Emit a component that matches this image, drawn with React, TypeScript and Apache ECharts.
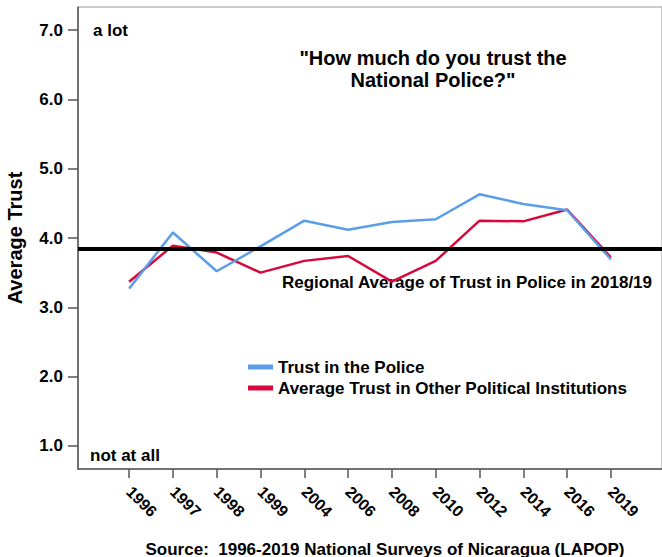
import React, { useEffect, useRef } from "react";
import * as echarts from "echarts";

const years = ["1996", "1997", "1998", "1999", "2004", "2006", "2008", "2010", "2012", "2014", "2016", "2019"];
const policeTrust = [3.27, 4.08, 3.52, 3.88, 4.25, 4.12, 4.23, 4.27, 4.63, 4.49, 4.4, 3.69];
const otherInstitutions = [3.37, 3.89, 3.79, 3.5, 3.67, 3.74, 3.37, 3.67, 4.25, 4.24, 4.41, 3.72];
const regionalAverage = 3.84;
const yTicks = [1, 2, 3, 4, 5, 6, 7];
const seriesNames = ["Trust in the Police", "Average Trust in Other Political Institutions"];

const FONT = "'Liberation Sans', Arial, Helvetica, sans-serif";

export default function App() {
  const ref = useRef<HTMLDivElement>(null);
  useEffect(() => {
    if (!ref.current) return;
    const chart = echarts.init(ref.current, undefined, { renderer: "svg" });
    const xIdx = years.map((_, i) => i);
    const txt = (extra: any) => ({
      type: "text",
      silent: true,
      style: { fontFamily: FONT, fontWeight: "bold", fontSize: 17, fill: "#000", ...extra.style },
      ...extra.pos,
    });
    chart.setOption({
      animation: false,
      backgroundColor: "#fff",
      grid: { left: 78, top: 7, width: 594, height: 462, show: true, borderColor: "#999", borderWidth: 1 },
      xAxis: {
        type: "value",
        min: -1.167,
        max: 12.167,
        splitLine: { show: false },
        axisLine: { onZero: false, lineStyle: { color: "#555", width: 1.5 } },
        axisTick: { customValues: xIdx, length: 9, lineStyle: { color: "#555", width: 1.5 } },
        axisLabel: {
          customValues: xIdx,
          rotate: -45,
          margin: 20,
          formatter: (v: number) => years[Math.round(v)],
          fontFamily: FONT,
          fontWeight: "bold",
          fontSize: 16,
          color: "#000",
        },
      },
      yAxis: {
        type: "value",
        min: 0.668,
        max: 7.332,
        splitLine: { show: false },
        axisLine: { show: true, onZero: false, lineStyle: { color: "#555", width: 1.5 } },
        axisTick: { show: true, customValues: yTicks, length: 10, lineStyle: { color: "#555", width: 1.5 } },
        axisLabel: {
          customValues: yTicks,
          margin: 15,
          formatter: (v: number) => v.toFixed(1),
          fontFamily: FONT,
          fontWeight: "bold",
          fontSize: 17,
          color: "#000",
        },
      },
      legend: {
        orient: "vertical",
        left: 248,
        top: 357,
        padding: 0,
        itemGap: 1,
        itemWidth: 25,
        itemHeight: 5,
        icon: "rect",
        data: [seriesNames[0], seriesNames[1]],
        textStyle: { fontFamily: FONT, fontWeight: "bold", fontSize: 17, color: "#000", lineHeight: 20 },
      },
      series: [
        {
          name: seriesNames[1],
          type: "line",
          data: otherInstitutions.map((v, i) => [i, v]),
          symbol: "none",
          color: "#d8083d",
          lineStyle: { width: 2.5, color: "#d8083d" },
          z: 2,
        },
        {
          name: seriesNames[0],
          type: "line",
          data: policeTrust.map((v, i) => [i, v]),
          symbol: "none",
          color: "#5b9ee8",
          lineStyle: { width: 2.5, color: "#5b9ee8" },
          z: 3,
        },
        {
          name: "Regional",
          type: "line",
          data: [],
          z: 4,
          markLine: {
            silent: true,
            symbol: "none",
            label: { show: false },
            lineStyle: { color: "#000", width: 4, type: "solid" },
            data: [{ yAxis: regionalAverage }],
          },
        },
      ],
      graphic: [
        txt({ pos: { x: 93, y: 30 }, style: { text: "a lot", textVerticalAlign: "middle" } }),
        txt({ pos: { x: 90, y: 455 }, style: { text: "not at all", textVerticalAlign: "middle" } }),
        txt({
          pos: { x: 433, y: 69 },
          style: {
            text: '"How much do you trust the\nNational Police?"',
            fontSize: 20,
            lineHeight: 22,
            textAlign: "center",
            textVerticalAlign: "middle",
          },
        }),
        txt({
          pos: { x: 282, y: 282 },
          style: { text: "Regional Average of Trust in Police in 2018/19", textVerticalAlign: "middle" },
        }),
        txt({
          pos: { x: 385, y: 549 },
          style: {
            text: "Source:  1996-2019 National Surveys of Nicaragua (LAPOP)",
            textAlign: "center",
            textVerticalAlign: "middle",
          },
        }),
        txt({
          pos: { x: 15, y: 238, rotation: Math.PI / 2 },
          style: { text: "Average Trust", fontSize: 20, textAlign: "center", textVerticalAlign: "middle" },
        }),
      ],
    });
    return () => chart.dispose();
  }, []);
  return <div ref={ref} style={{ position: "fixed", left: 0, top: 0, width: 662, height: 557 }} />;
}
